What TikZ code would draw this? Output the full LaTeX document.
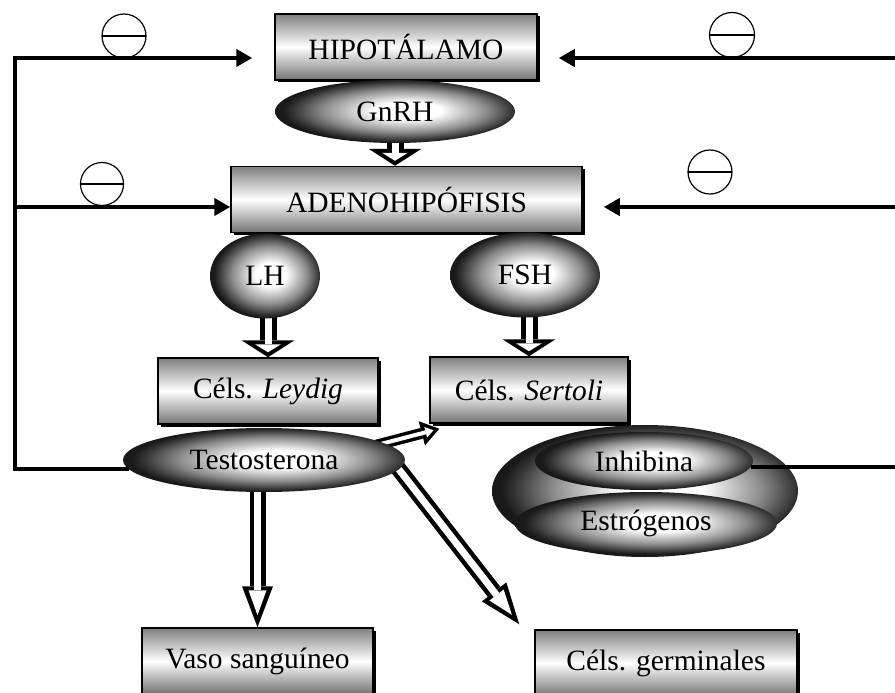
\documentclass[tikz,border=0pt]{standalone}
\usepackage{fontspec}
\setmainfont{Liberation Serif}
\usetikzlibrary{arrows.meta,shapes.geometric,shadows,backgrounds}

\def\xder{895}
\def\yalto{693}

\pgfdeclareradialshading{brillo}{\pgfpoint{3bp}{1bp}}{color(0bp)=(white); color(7bp)=(white);
  color(17bp)=(black!45); color(23bp)=(black!80); color(25bp)=(black!90); color(50bp)=(black!90)}

\tikzset{
  caja/.style={rectangle, draw=black, line width=1.5pt, minimum width=#1, minimum height=66pt, inner sep=0pt,
    top color=black!50, bottom color=black!55, middle color=white,
    drop shadow={shadow xshift=2.5pt, shadow yshift=-2.5pt, opacity=1, fill=black}},
  hormona/.style 2 args={ellipse, inner sep=0pt, minimum width=#1, minimum height=#2, shading=brillo},
  menos/.style={circle, draw, line width=1.2pt, minimum size=#1, inner sep=0pt,
    path picture={\draw[line width=1.2pt] (path picture bounding box.west) -- (path picture bounding box.east);}},
  retro/.style={line width=4pt, line join=miter, -{Triangle[length=16pt,width=17pt]}},
  hplana/.style={line width=17pt, -{Triangle[length=17pt,width=53pt,line width=0pt]},
    postaction={draw=white, line width=7pt, -{Triangle[length=8pt,width=26pt,line width=0pt]}, shorten >=5pt}},
  hlarga/.style={line width=16pt, -{Triangle[length=41pt,width=31pt,line width=0pt]},
    postaction={draw=white, line width=7pt, -{Triangle[length=25pt,width=18pt,line width=0pt]}, shorten >=12pt}},
  hcorta/.style={line width=11pt, -{Triangle[length=18pt,width=25pt,line width=0pt]},
    postaction={draw=white, line width=4pt, -{Triangle[length=8pt,width=11pt,line width=0pt]}, shorten >=6pt}}
}

\begin{document}
\begin{tikzpicture}[x=1pt, y=-1pt, font=\fontsize{29.5}{34}\selectfont]
    \useasboundingbox (0,0) rectangle (\xder,\yalto);
    \clip (0,0) rectangle (\xder,\yalto);

    \node[caja=262pt] (hipo) at (406,47) {HIPOTÁLAMO};
    \node[hormona={240pt}{63pt}] (gnrh) at (395,111.5) {GnRH};
    \node[caja=351pt] (adeno) at (406.5,199.5) {ADENOHIPÓFISIS};
    \node[hormona={110pt}{85pt}] (lh) at (265,276) {LH};
    \node[hormona={150pt}{85pt}] (fsh) at (525,275) {FSH};
    \node[caja=220pt] (leydig) at (268,391) {Céls. \textit{Leydig}};
    \node[caja=198pt] (sertoli) at (529,390) {Céls. \textit{Sertoli}};
    \node[hormona={282pt}{64pt}] (testo) at (264,460) {Testosterona};
    \node[hormona={306pt}{132pt}] (grupo) at (645,491) {};
    \node[hormona={262pt}{63pt}] (estro) at (646,523.5) {Estrógenos};
    \node[hormona={218pt}{58pt}] (inhib) at (644,461) {Inhibina};
    \node[caja=231pt] (vaso) at (257.5,661) {Vaso sanguíneo};
    \node[caja=262pt] (germ) at (666,663) {Céls. germinales};

    \node[menos=44pt] (m1) at (124,36) {};
    \node[menos=43pt] (m2) at (102,184) {};
    \node[menos=45pt] (m3) at (732,35) {};
    \node[menos=44pt] (m4) at (710,172) {};

    \coordinate (esq) at (15,58);
    \coordinate (ramal) at (15,207);
    \coordinate (der1) at (\xder,58);
    \coordinate (der2) at (\xder,207);

    \draw[retro] (testo.184) -| (esq) -- ([xshift=-22pt]esq -| hipo.west);
    \draw[retro] (ramal) -- (ramal -| adeno.west);
    \draw[retro] (der1) -- ([xshift=21pt]der1 -| hipo.east);
    \draw[retro] (der2) -- ([xshift=21pt]der2 -| adeno.east);
    \draw[line width=4pt] (inhib.-3) -- (inhib.-3 -| der1);

    \begin{pgfonlayer}{background}
        \draw[hplana] (gnrh.center) -- (gnrh.center |- adeno.north);
        \draw[hplana] (leydig.north |- lh.center) -- (leydig.north);
        \draw[hplana] (sertoli.north |- fsh.center) -- (sertoli.north);
        \draw[hlarga] (vaso.north |- testo.center) -- (vaso.north);
        \draw[hlarga, shorten <=-12pt] (testo.-4) -- ([xshift=-15pt,yshift=5pt]germ.north west);
        \draw[hcorta, shorten <=-8pt] (testo.8) -- ([xshift=10pt,yshift=-5pt]sertoli.south west);
    \end{pgfonlayer}
\end{tikzpicture}
\end{document}
